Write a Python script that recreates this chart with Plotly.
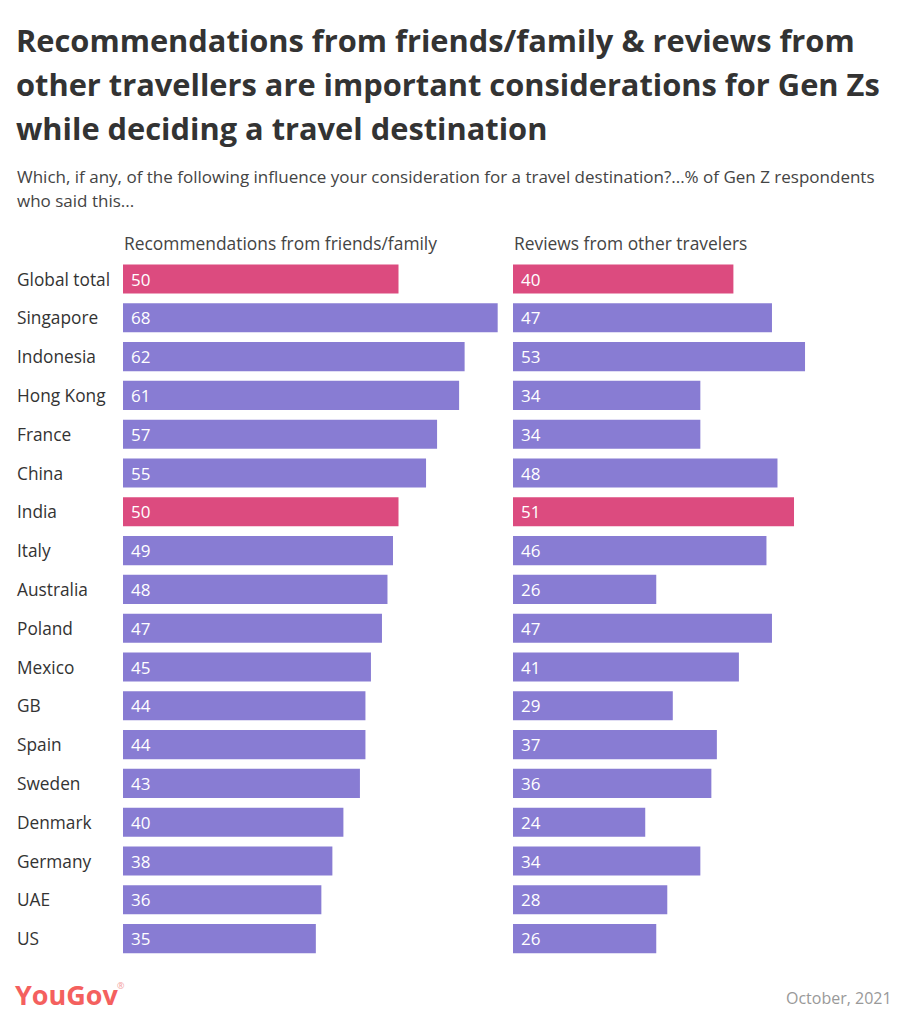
import plotly.graph_objects as go

countries = ["Global total", "Singapore", "Indonesia", "Hong Kong", "France", "China", "India",
             "Italy", "Australia", "Poland", "Mexico", "GB", "Spain", "Sweden", "Denmark",
             "Germany", "UAE", "US"]
friends_family = [50, 68, 62, 61, 57, 55, 50, 49, 48, 47, 45, 44, 44, 43, 40, 38, 36, 35]
reviews = [40, 47, 53, 34, 34, 48, 51, 46, 26, 47, 41, 29, 37, 36, 24, 34, 28, 26]
highlight = ["Global total", "India"]

PINK = "#dc4b7f"
PURPLE = "#887cd3"
W, H = 908, 1024
FONT = "Open Sans"

def px(x):
    return x / W

def py(y):
    return 1 - y / H

colors = [PINK if c in highlight else PURPLE for c in countries]

fig = go.Figure()
fig.add_trace(go.Bar(y=countries, x=friends_family, orientation="h", marker_color=colors,
                     marker_line_width=0, xaxis="x", yaxis="y", hoverinfo="skip"))
fig.add_trace(go.Bar(y=countries, x=reviews, orientation="h", marker_color=colors,
                     marker_line_width=0, xaxis="x2", yaxis="y2", hoverinfo="skip"))

scale = 5.51  # px per unit
xmax = 70
ytop, ybot = 259.6, 958.0
ydom = [py(ybot), py(ytop)]
yrange = [len(countries) - 0.5, -0.5]

ax_common = dict(range=[0, xmax], showgrid=False, zeroline=False, showticklabels=False,
                 ticks="", showline=False, fixedrange=True)
fig.update_layout(
    width=W, height=H,
    margin=dict(l=0, r=0, t=0, b=0),
    paper_bgcolor="white", plot_bgcolor="rgba(0,0,0,0)",
    showlegend=False, bargap=0.25,
    font=dict(family=FONT, color="#333333"),
    xaxis=dict(domain=[px(123), px(123 + scale * xmax)], anchor="y", **ax_common),
    xaxis2=dict(domain=[px(513), px(513 + scale * xmax)], anchor="y2", **ax_common),
    yaxis=dict(domain=ydom, range=yrange, anchor="x", showticklabels=False, showgrid=False,
               zeroline=False, ticks="", fixedrange=True),
    yaxis2=dict(domain=ydom, range=yrange, anchor="x2", showticklabels=False, showgrid=False,
                zeroline=False, ticks="", fixedrange=True),
)

ann = []
title_lines = ["Recommendations from friends/family & reviews from",
               "other travellers are important considerations for Gen Zs",
               "while deciding a travel destination"]
for line, yy in zip(title_lines, [40, 84, 128]):
    ann.append(dict(text="<b>" + line + "</b>", x=px(14), y=py(yy), xref="paper", yref="paper",
                    xanchor="left", yanchor="middle", showarrow=False,
                    font=dict(size=30.8, color="#333333", family=FONT)))
sub_lines = ["Which, if any, of the following influence your consideration for a travel destination?...% of Gen Z respondents",
             "who said this..."]
for line, yy in zip(sub_lines, [176, 200]):
    ann.append(dict(text=line, x=px(15), y=py(yy), xref="paper", yref="paper",
                    xanchor="left", yanchor="middle", showarrow=False,
                    font=dict(size=17, color="#444444", family=FONT)))
for text, xx in [("Recommendations from friends/family", 122), ("Reviews from other travelers", 512)]:
    ann.append(dict(text=text, x=px(xx), y=py(243), xref="paper", yref="paper",
                    xanchor="left", yanchor="middle", showarrow=False,
                    font=dict(size=17.4, color="#444444", family=FONT)))
for c in countries:
    ann.append(dict(text=c, x=px(15), y=c, xref="paper", yref="y", xanchor="left",
                    yanchor="middle", showarrow=False, font=dict(size=17.3, color="#333333", family=FONT)))
for c, v in zip(countries, friends_family):
    ann.append(dict(text=str(v), x=0, y=c, xref="x", yref="y", xanchor="left", xshift=6,
                    yanchor="middle", showarrow=False, font=dict(size=17, color="white", family=FONT)))
for c, v in zip(countries, reviews):
    ann.append(dict(text=str(v), x=0, y=c, xref="x2", yref="y2", xanchor="left", xshift=6,
                    yanchor="middle", showarrow=False, font=dict(size=17, color="white", family=FONT)))
ann.append(dict(text="<b>YouGov</b>", x=px(13), y=py(994),
                xref="paper", yref="paper", xanchor="left", yanchor="middle", showarrow=False,
                font=dict(size=27, color="#f4605e", family=FONT)))
ann.append(dict(text="®", x=px(115), y=py(985),
                xref="paper", yref="paper", xanchor="left", yanchor="middle", showarrow=False,
                font=dict(size=9, color="#f4a0a0", family=FONT)))
ann.append(dict(text="October, 2021", x=px(894), y=py(998), xref="paper", yref="paper",
                xanchor="right", yanchor="middle", showarrow=False,
                font=dict(size=16, color="#999999", family=FONT)))
fig.update_layout(annotations=ann)

fig.write_html("out.html", config={"displayModeBar": False},
               post_script="document.body.style.margin='0';document.body.style.padding='0';")
